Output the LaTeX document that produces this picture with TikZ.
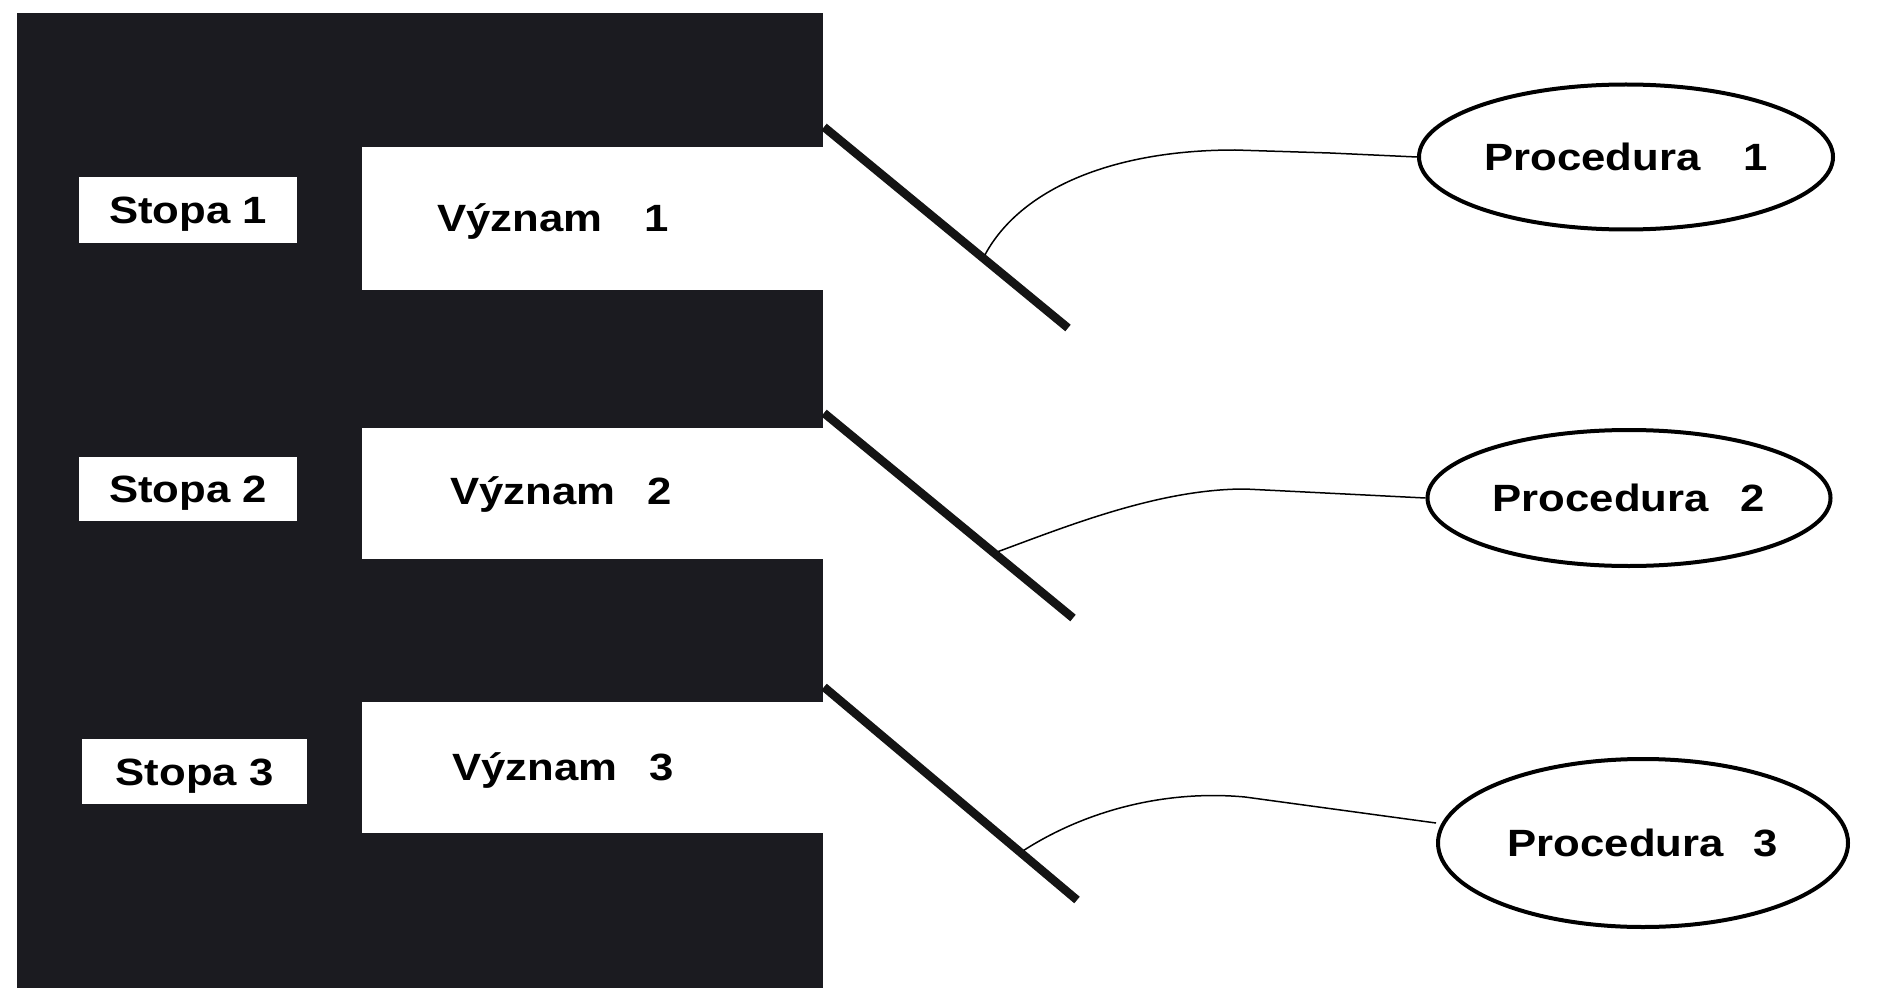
\documentclass[tikz,border=0pt]{standalone}
\usepackage{fontspec}
\setmainfont{Liberation Sans}[FakeStretch=1.15]
\usetikzlibrary{shapes.geometric}
\definecolor{panel}{RGB}{27,27,32}
\begin{document}
\begin{tikzpicture}[x=1pt,y=-1pt,
  lbl/.style={font=\fontsize{38}{42}\selectfont\bfseries, inner sep=0pt,
              text height=27pt, text depth=0pt},
  whitebox/.style={fill=white, draw=none, inner sep=0pt, anchor=north west},
  stopabox/.style={whitebox, lbl},
  proc/.style={ellipse, draw=black, line width=4pt, fill=white, lbl},
  stem/.style={line width=8.5pt, draw=black!92},
  link/.style={line width=1.5pt, draw=black}]
% canvas
\useasboundingbox (0,0) rectangle (1881,992);
\fill[white] (0,0) rectangle (1881,992);
% dark panel
\fill[panel] (17,13) rectangle (823,988);
% meaning boxes (white cut-outs in the panel)
\node[whitebox, minimum width=462pt, minimum height=143pt] (v1) at (362,147) {};
\node[whitebox, minimum width=462pt, minimum height=131pt] (v2) at (362,428) {};
\node[whitebox, minimum width=462pt, minimum height=131pt] (v3) at (362,702) {};
\node[lbl] (v1t) at (553,218) {Význam\hspace{42pt}1};
\node[lbl] (v2t) at (561,491) {Význam\hspace{32pt}2};
\node[lbl] (v3t) at (563,767) {Význam\hspace{32pt}3};
% trace labels
\node[stopabox, minimum width=218pt, minimum height=66pt] (s1) at (79,177) {Stopa 1};
\node[stopabox, minimum width=218pt, minimum height=64pt] (s2) at (79,457) {Stopa 2};
\node[stopabox, minimum width=225pt, minimum height=65pt] (s3) at (82,739) {Stopa 3};
% procedures
\node[proc, minimum width=414pt, minimum height=145pt] (p1) at (1626,157) {Procedura\hspace{43pt}1};
\node[proc, minimum width=403pt, minimum height=136pt] (p2) at (1629,498) {Procedura\hspace{32pt}2};
\node[proc, minimum width=410pt, minimum height=168pt] (p3) at (1643,843) {Procedura\hspace{30pt}3};
% slanted stems leaving the panel
\coordinate (t1) at (824,127); \coordinate (b1) at (1068,328);
\coordinate (t2) at (824,413); \coordinate (b2) at (1073,618);
\coordinate (t3) at (824,687); \coordinate (b3) at (1077,900);
\draw[stem] (t1) -- coordinate[pos=0.66] (c1) (b1);
\draw[stem] (t2) -- coordinate[pos=0.70] (c2) (b2);
\draw[stem] (t3) -- coordinate[pos=0.79] (c3) (b3);
% links from stems to procedures
\draw[link] ([yshift=5pt]c1) .. controls (1020,190) and (1110,150) .. (1235,150) -- (1330,153) -- (p1.west);
\draw[link] ([yshift=5pt]c2) .. controls (1070,525) and (1160,489) .. (1245,489) -- (p2.west);
\draw[link] ([yshift=5pt]c3) .. controls (1090,808) and (1170,790) .. (1245,797) -- ([yshift=20pt]p3.west);
\end{tikzpicture}
\end{document}
